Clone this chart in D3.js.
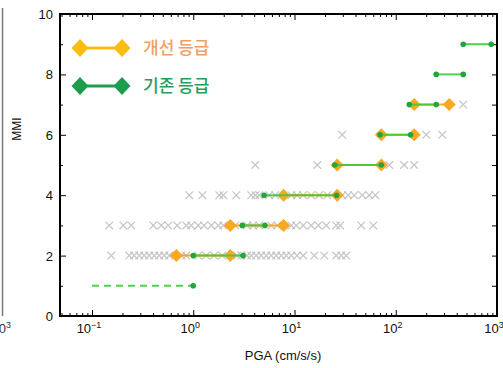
<!DOCTYPE html>
<html>
<head>
<meta charset="utf-8">
<script src="https://cdn.jsdelivr.net/npm/d3@7"></script>
<style>
  body { margin: 0; background: #fff; }
  svg { display: block; font-family: "Liberation Sans", Arial, sans-serif; }
</style>
</head>
<body>
<svg id="chart" width="503" height="368"></svg>
<script>
// existing grading (green): PGA range per MMI level
const oldMmi = [1, 2, 3, 4, 5, 6, 7, 8, 9];
const oldLo = [0.1, 1.0, 3.05, 5.0, 25, 70, 136, 251, 464];
const oldHi = [1.0, 3.1, 5.1, 26, 72, 140, 251, 464, 877];

// improved grading (orange)
const newMmi = [2, 3, 4, 5, 6, 7];
const newLo = [0.68, 2.32, 7.8, 26.4, 72, 152];
const newHi = [2.32, 7.8, 26.4, 72, 152, 337];

// observations (gray crosses), PGA per MMI level
const obs2 = [0.155, 0.233, 0.261, 0.293, 0.328, 0.367, 0.412, 0.461, 0.517, 0.579, 0.76, 0.853,
  1.12, 1.34, 1.61, 1.93, 2.72, 2.98, 3.41, 3.74, 4.19, 4.69, 5.26, 5.89, 6.6, 7.4, 8.3, 9.3,
  10.6, 12.2, 15.7, 19.7, 25.8, 29.0, 32.4];
const obs3 = [0.148, 0.204, 0.244, 0.403, 0.483, 0.566, 0.695, 0.853, 0.955, 1.12, 1.28, 1.51,
  1.77, 1.98, 2.6, 3.41, 3.91, 4.49, 5.89, 6.76, 9.3, 10.4, 12.2, 14.6, 17.2, 20.6, 25.8, 28.3,
  45.6, 60.0];
const obs4 = [0.913, 1.23, 1.81, 1.98, 2.66, 3.74, 4.1, 4.49, 5.63, 6.45, 9.3, 10.6, 12.2, 14.6,
  17.5, 21.1, 29.6, 33.9, 38.9, 46.7, 54.7, 62.8];
const obs5 = [4.1, 16.8, 86.3, 121, 152];
const obs6 = [29.6, 200, 288];
const obs7 = [464];

const xMajor = [0.1, 1, 10, 100, 1000];
const xMajorExp = ['\u22121', '0', '1', '2', '3'];
const yLabels = [0, 2, 4, 6, 8, 10];

const svg = d3.select('#chart');
const pl = 60, pr = 497, pt = 14, pb = 316;

const x = d3.scaleLog().domain([0.0483, 1000]).range([pl, pr]);
const y = d3.scaleLinear().domain([0, 10]).range([pb, pt]);

// neighbouring panel sliver on the left
svg.append('line').attr('x1', 2.5).attr('x2', 2.5).attr('y1', 8).attr('y2', 316)
  .attr('stroke', '#777').attr('stroke-width', 1.5);
const sl = svg.append('text').attr('x', 11).attr('y', 333).attr('text-anchor', 'end')
  .attr('font-size', 13).attr('fill', '#333');
sl.append('tspan').text('10');
sl.append('tspan').attr('dy', -5).attr('font-size', 9).text('3');

// minor ticks for the log axis
const xMinor = [];
for (let e = -2; e <= 2; e++) {
  for (let m = 2; m <= 9; m++) {
    const v = m * Math.pow(10, e);
    if (v >= 0.0483 && v <= 1000) xMinor.push(v);
  }
}

function tickAxis(axis, transform, size) {
  const g = svg.append('g').attr('transform', transform)
    .call(axis.tickSize(size).tickSizeOuter(0).tickFormat(''));
  g.select('.domain').remove();
  g.selectAll('line').attr('stroke', '#000').attr('stroke-width', 1);
}

tickAxis(d3.axisBottom(x).tickValues(xMajor), `translate(0,${pb})`, -6);
tickAxis(d3.axisBottom(x).tickValues(xMinor), `translate(0,${pb})`, -3);
tickAxis(d3.axisTop(x).tickValues(xMajor), `translate(0,${pt})`, -6);
tickAxis(d3.axisTop(x).tickValues(xMinor), `translate(0,${pt})`, -3);
tickAxis(d3.axisLeft(y).tickValues(yLabels), `translate(${pl},0)`, -6);
tickAxis(d3.axisLeft(y).tickValues([1, 3, 5, 7, 9]), `translate(${pl},0)`, -3);
tickAxis(d3.axisRight(y).tickValues(d3.range(1, 10)), `translate(${pr},0)`, -5);

// frame
svg.append('rect').attr('x', pl).attr('y', pt).attr('width', pr - pl).attr('height', pb - pt)
  .attr('fill', 'none').attr('stroke', '#000').attr('stroke-width', 2);

// tick labels
svg.selectAll('.ylab').data(yLabels).enter().append('text')
  .attr('x', 53).attr('y', d => y(d) + 5).attr('text-anchor', 'end')
  .attr('font-size', 13).attr('fill', '#111').text(d => d);

xMajor.forEach((v, i) => {
  const t = svg.append('text').attr('x', x(v) - 3).attr('y', 333).attr('text-anchor', 'middle')
    .attr('font-size', 13).attr('fill', '#111');
  t.append('tspan').text('10');
  t.append('tspan').attr('dy', -5).attr('font-size', 9).text(xMajorExp[i]);
});

svg.append('text').attr('x', 283).attr('y', 360).attr('text-anchor', 'middle')
  .attr('font-size', 13).attr('fill', '#111').text('PGA (cm/s/s)');
svg.append('text').attr('transform', 'translate(21,129) rotate(-90)').attr('text-anchor', 'middle')
  .attr('font-size', 12).attr('fill', '#111').text('MMI');

// observations
const obs = [];
[[2, obs2], [3, obs3], [4, obs4], [5, obs5], [6, obs6], [7, obs7]].forEach(([m, arr]) => {
  arr.forEach(v => obs.push({ mmi: m, pga: v }));
});
const cr = 3.8;
svg.append('g').selectAll('path').data(obs).enter().append('path')
  .attr('d', d => {
    const cx = x(d.pga), cy = y(d.mmi);
    return `M${cx - cr},${cy - cr}L${cx + cr},${cy + cr}M${cx - cr},${cy + cr}L${cx + cr},${cy - cr}`;
  })
  .attr('stroke', '#bdbdbd').attr('stroke-width', 1.3).attr('fill', 'none').attr('opacity', 0.85);

// improved grading lines + diamonds
const orange = '#f9a824';
const dia = s => `M0,${-s}L${s},0L0,${s}L${-s},0Z`;
svg.append('g').selectAll('line').data(newMmi).enter().append('line')
  .attr('x1', (d, i) => x(newLo[i])).attr('x2', (d, i) => x(newHi[i]))
  .attr('y1', d => y(d)).attr('y2', d => y(d))
  .attr('stroke', orange).attr('stroke-width', 2);
const newPts = [];
newMmi.forEach((m, i) => { newPts.push({ m, v: newLo[i] }, { m, v: newHi[i] }); });
svg.append('g').selectAll('path').data(newPts).enter().append('path')
  .attr('d', dia(6.5)).attr('transform', d => `translate(${x(d.v)},${y(d.m)})`)
  .attr('fill', orange);

// existing grading lines + dots
const green = '#3ccc3c', greenDot = '#22a63a';
svg.append('g').selectAll('line').data(oldMmi).enter().append('line')
  .attr('x1', (d, i) => x(oldLo[i])).attr('x2', (d, i) => x(oldHi[i]))
  .attr('y1', d => y(d)).attr('y2', d => y(d))
  .attr('stroke', green).attr('stroke-width', 2).attr('opacity', 0.9)
  .attr('stroke-dasharray', (d, i) => i === 0 ? '7,5' : null);
const oldPts = [];
oldMmi.forEach((m, i) => {
  if (i > 0) oldPts.push({ m, v: oldLo[i] });
  oldPts.push({ m, v: oldHi[i] });
});
svg.append('g').selectAll('circle').data(oldPts).enter().append('circle')
  .attr('cx', d => x(d.v)).attr('cy', d => y(d.m)).attr('r', 2.8)
  .attr('fill', greenDot);

// legend
const legend = [
  { label: '개선 등급', line: '#fcbc12', mark: '#fcbc12', text: '#f2a062', yy: 48 },
  { label: '기존 등급', line: '#1b9e4c', mark: '#1b9e4c', text: '#1f9e5c', yy: 86 }
];
const lg = svg.append('g').selectAll('g').data(legend).enter().append('g');
lg.append('line').attr('x1', 80).attr('x2', 122).attr('y1', d => d.yy).attr('y2', d => d.yy)
  .attr('stroke', d => d.line).attr('stroke-width', 3);
lg.each(function(d) {
  d3.select(this).selectAll('path').data([80, 122]).enter().append('path')
    .attr('d', 'M0,-9L8.5,0L0,9L-8.5,0Z').attr('transform', px => `translate(${px},${d.yy})`)
    .attr('fill', d.mark);
});
lg.append('text').attr('x', 143).attr('y', d => d.yy + 6).attr('font-size', 17)
  .attr('font-family', '"Noto Sans CJK KR", sans-serif').attr('font-weight', 500)
  .attr('fill', d => d.text).text(d => d.label);
</script>
</body>
</html>
